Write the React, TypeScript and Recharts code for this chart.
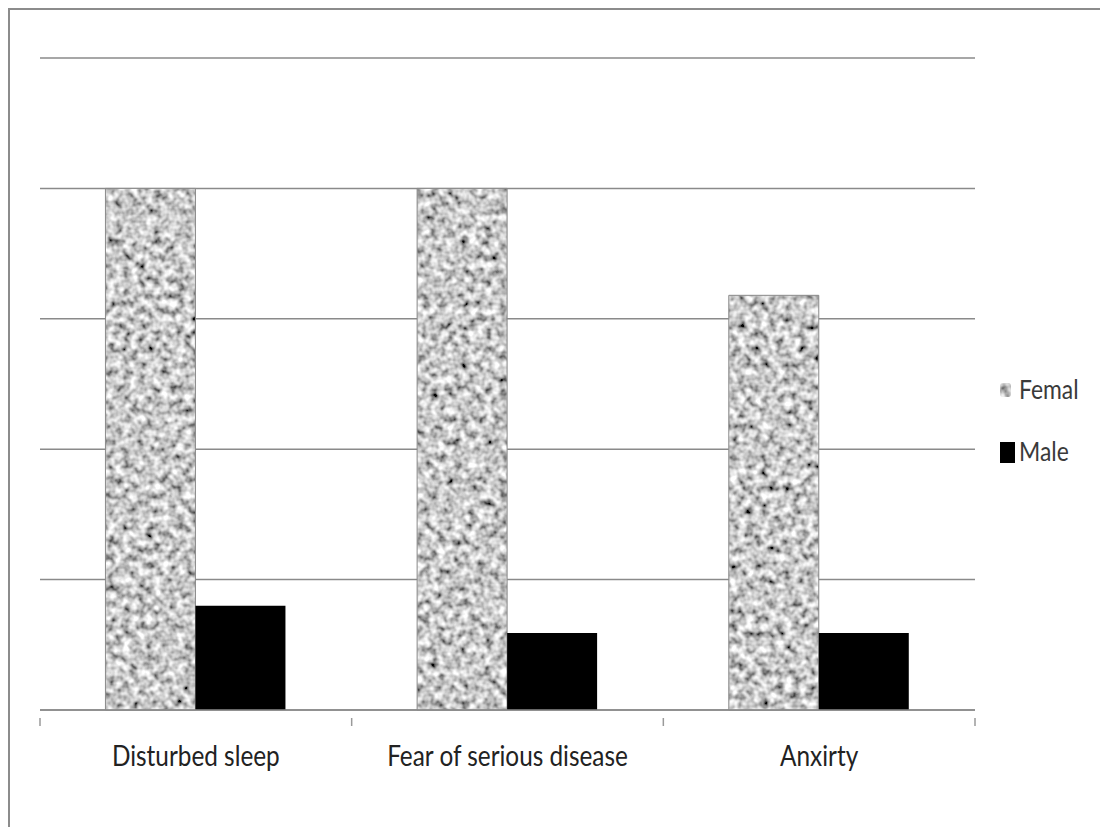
import { Bar, BarChart, CartesianGrid, XAxis, YAxis } from "recharts";

const categories = ["Disturbed sleep", "Fear of serious disease", "Anxirty"];
const femaleValues = [4, 4, 3.18];
const maleValues = [0.8, 0.59, 0.59];
const yTicks = [0, 1, 2, 3, 4, 5];

const data = categories.map((name, i) => ({
  name,
  female: femaleValues[i],
  male: maleValues[i]
}));

const FONT = "Lato, 'Open Sans', sans-serif";

function BoundaryTick(props: any) {
  const { x, y, payload, index, visibleTicksCount } = props;
  const half = payload.offset || 0;
  const last = index === (visibleTicksCount ?? categories.length) - 1;
  return (
    <g>
      <line x1={x - half} y1={y} x2={x - half} y2={y + 8} stroke="#9a9a9a" strokeWidth={1.5} />
      {last && (
        <line x1={x + half} y1={y} x2={x + half} y2={y + 8} stroke="#9a9a9a" strokeWidth={1.5} />
      )}
      <text
        transform={`translate(${x},${y + 48}) scale(0.84,1)`}
        textAnchor="middle"
        fontFamily={FONT}
        fontSize={29}
        fill="#222"
      >
        {payload.value}
      </text>
    </g>
  );
}

function LegendBox() {
  return (
    <svg
      width={105}
      height={110}
      style={{ position: "absolute", left: 995, top: 370 }}
    >
      <rect x={5} y={13} width={11} height={14} rx={3} fill="url(#speckle)" />
      <text
        transform="translate(24,29) scale(0.88,1)"
        fontFamily={FONT}
        fontSize={26}
        fill="#3a3a3a"
      >
        Femal
      </text>
      <rect x={5} y={72} width={15} height={21} fill="#000" />
      <text
        transform="translate(24,91) scale(0.88,1)"
        fontFamily={FONT}
        fontSize={26}
        fill="#3a3a3a"
      >
        Male
      </text>
    </svg>
  );
}

export default function App() {
  return (
    <div
      style={{
        position: "absolute",
        left: 0,
        top: 0,
        width: 1100,
        height: 827,
        overflow: "hidden",
        background: "#fff"
      }}
    >
      <div
        style={{
          position: "absolute",
          left: 8,
          top: 8,
          width: 1200,
          height: 900,
          borderTop: "2px solid #8c8c8c",
          borderLeft: "2px solid #8c8c8c"
        }}
      />
      <div style={{ position: "absolute", left: 0, top: 0 }}>
        <BarChart
          width={1100}
          height={827}
          data={data}
          margin={{ top: 58, right: 125, bottom: 116, left: 40 }}
          barCategoryGap="21%"
          barGap={0}
        >
          <defs>
            <filter id="noise" x="0" y="0" width="100%" height="100%">
              <feTurbulence type="fractalNoise" baseFrequency="0.13" numOctaves={2} seed={7} />
              <feColorMatrix
                type="matrix"
                values="1.7 0 0 0 -0.27  1.7 0 0 0 -0.27  1.7 0 0 0 -0.27  0 0 0 0 1"
              />
            </filter>
            <pattern id="speckle" patternUnits="userSpaceOnUse" width={1100} height={827}>
              <rect width={1100} height={827} fill="#aaa" filter="url(#noise)" />
            </pattern>
          </defs>
          <CartesianGrid vertical={false} stroke="#8a8a8a" strokeWidth={1.5} />
          <YAxis
            domain={[0, 5]}
            ticks={yTicks}
            width={0}
            tick={() => <g />}
            axisLine={false}
            tickLine={false}
          />
          <XAxis
            dataKey="name"
            height={1}
            axisLine={{ stroke: "#8a8a8a", strokeWidth: 1.5 }}
            tickLine={false}
            tick={<BoundaryTick />}
            interval={0}
          />
          <Bar
            dataKey="female"
            fill="url(#speckle)"
            stroke="#8a8a8a"
            strokeWidth={1}
            isAnimationActive={false}
          />
          <Bar dataKey="male" fill="#000" isAnimationActive={false} />
        </BarChart>
      </div>
      <LegendBox />
    </div>
  );
}
